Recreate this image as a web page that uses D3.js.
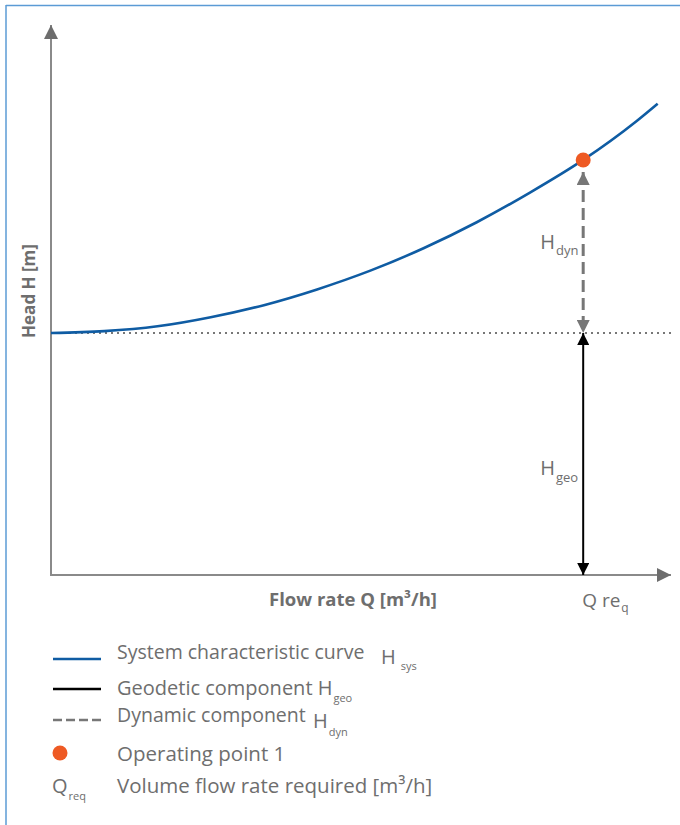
<!DOCTYPE html>
<html><head><meta charset="utf-8">
<script src="https://cdn.jsdelivr.net/npm/d3@7"></script>
<style>
body{margin:0;background:#fff;}
text{font-family:"Open Sans","Noto Sans",sans-serif;}
</style></head>
<body><svg id="c" width="680" height="825"></svg>
<script>
// Data (flow in m3/h, head in m)
const flow = [0, 10, 20, 30, 40, 50, 60, 70, 80, 90, 100, 110, 114];
const head = [40, 40.3, 41.1, 42.6, 44.6, 47.2, 50.3, 54.0, 58.3, 63.2, 68.6, 75.0, 77.9];
const hGeo = 40;
const qReq = 100;
const hOp = 68.6;
const legendLabels = ["System characteristic curve", "Geodetic component H", "Dynamic component", "Operating point 1", "Volume flow rate required [m³/h]"];

const svg = d3.select("#c");
const txt = "#6e6e6e";

// frame
svg.append("line").attr("x1",6).attr("x2",680).attr("y1",5.5).attr("y2",5.5).attr("stroke","#5b9bd5").attr("stroke-width",1.5);
svg.append("line").attr("x1",6).attr("x2",6).attr("y1",5).attr("y2",825).attr("stroke","#5b9bd5").attr("stroke-width",1.5);

const x = d3.scaleLinear().domain([0, 116.5]).range([51, 671]);
const y = d3.scaleLinear().domain([0, 90.9]).range([575, 25]);

const defs = svg.append("defs");
function marker(id, color, w, h){
  defs.append("marker").attr("id",id).attr("viewBox","0 0 10 10").attr("refX",10).attr("refY",5)
    .attr("markerWidth",w).attr("markerHeight",h).attr("markerUnits","userSpaceOnUse").attr("orient","auto-start-reverse")
    .append("path").attr("d","M0,0L10,5L0,10Z").attr("fill",color);
}
marker("axA","#6d6d6d",18,14);
marker("blk","#000",22,12);
marker("gry","#777",22,13);

// axes
svg.append("line").attr("x1",x(0)).attr("y1",y(0)).attr("x2",x(0)).attr("y2",y(90.9)).attr("stroke","#8a8a8a").attr("stroke-width",2).attr("marker-end","url(#axA)");
svg.append("line").attr("x1",x(0)-1).attr("y1",y(0)).attr("x2",x(116.5)).attr("y2",y(0)).attr("stroke","#8a8a8a").attr("stroke-width",2).attr("marker-end","url(#axA)");

// dotted geodetic line
svg.append("line").attr("x1",x(0)).attr("x2",675).attr("y1",y(hGeo)).attr("y2",y(hGeo))
  .attr("stroke","#777").attr("stroke-width",2).attr("stroke-dasharray","2,4");

// curve
const line = d3.line().x((d,i)=>x(flow[i])).y((d,i)=>y(head[i])).curve(d3.curveMonotoneX);
svg.append("path").datum(head).attr("d",line).attr("fill","none").attr("stroke","#0f5ca3").attr("stroke-width",2.6);

// arrows
svg.append("line").attr("x1",x(qReq)).attr("x2",x(qReq)).attr("y1",y(hGeo)).attr("y2",y(0))
  .attr("stroke","#000").attr("stroke-width",2).attr("marker-start","url(#blk)").attr("marker-end","url(#blk)");
svg.append("line").attr("x1",x(qReq)).attr("x2",x(qReq)).attr("y1",y(hOp)+12).attr("y2",y(hGeo))
  .attr("stroke","#777").attr("stroke-width",3).attr("stroke-dasharray","12,6").attr("marker-start","url(#gry)").attr("marker-end","url(#gry)");

// operating point
svg.append("circle").attr("cx",x(qReq)).attr("cy",y(hOp)).attr("r",7.5).attr("fill","#ee5a24");

// labels with subscripts
function sub(xp, yp, main, s, size, subSize, dx, dy){
  const t = svg.append("text").attr("x",xp).attr("y",yp).attr("fill",txt).attr("font-size",size);
  t.append("tspan").text(main);
  t.append("tspan").attr("dx",dx).attr("dy",dy).attr("font-size",subSize).text(s);
  return t;
}
sub(x(qReq)-43, 249, "H", "dyn", 20, 13, 1, 6);
sub(x(qReq)-43, 475, "H", "geo", 20, 13, 1, 7);
sub(x(qReq)-1, 607, "Q re", "q", 19, 12, 1, 5);

// axis titles
svg.append("text").attr("x",353).attr("y",606).attr("text-anchor","middle").attr("font-weight","bold")
  .attr("font-size",18.5).attr("fill",txt).text("Flow rate Q [m³/h]");
svg.append("text").attr("transform","translate(35,291) rotate(-90)").attr("text-anchor","middle").attr("font-weight","bold")
  .attr("font-size",17).attr("fill",txt).text("Head H [m]");

// legend
const lx = 117;
svg.append("line").attr("x1",53).attr("x2",101).attr("y1",659).attr("y2",659).attr("stroke","#0f5ca3").attr("stroke-width",2.5);
svg.append("text").attr("x",lx).attr("y",659).attr("font-size",19.5).attr("fill",txt).text(legendLabels[0]);
sub(381, 664, "H", "sys", 20, 11, 5, 6);

svg.append("line").attr("x1",53).attr("x2",101).attr("y1",689).attr("y2",689).attr("stroke","#000").attr("stroke-width",2.5);
sub(lx, 695, legendLabels[1], "geo", 20, 11, 1, 7);

svg.append("line").attr("x1",53).attr("x2",101).attr("y1",720).attr("y2",720).attr("stroke","#777").attr("stroke-width",2.5).attr("stroke-dasharray","9,4");
svg.append("text").attr("x",lx).attr("y",722).attr("font-size",19.5).attr("fill",txt).text(legendLabels[2]);
sub(313, 728, "H", "dyn", 20, 11, 1, 8);

svg.append("circle").attr("cx",60).attr("cy",753).attr("r",7.5).attr("fill","#ee5a24");
svg.append("text").attr("x",lx).attr("y",761).attr("font-size",20.5).attr("fill",txt).text(legendLabels[3]);

sub(52, 793, "Q", "req", 20, 11, 1, 7);
svg.append("text").attr("x",lx).attr("y",793).attr("font-size",20.5).attr("fill",txt).text(legendLabels[4]);
</script></body></html>
